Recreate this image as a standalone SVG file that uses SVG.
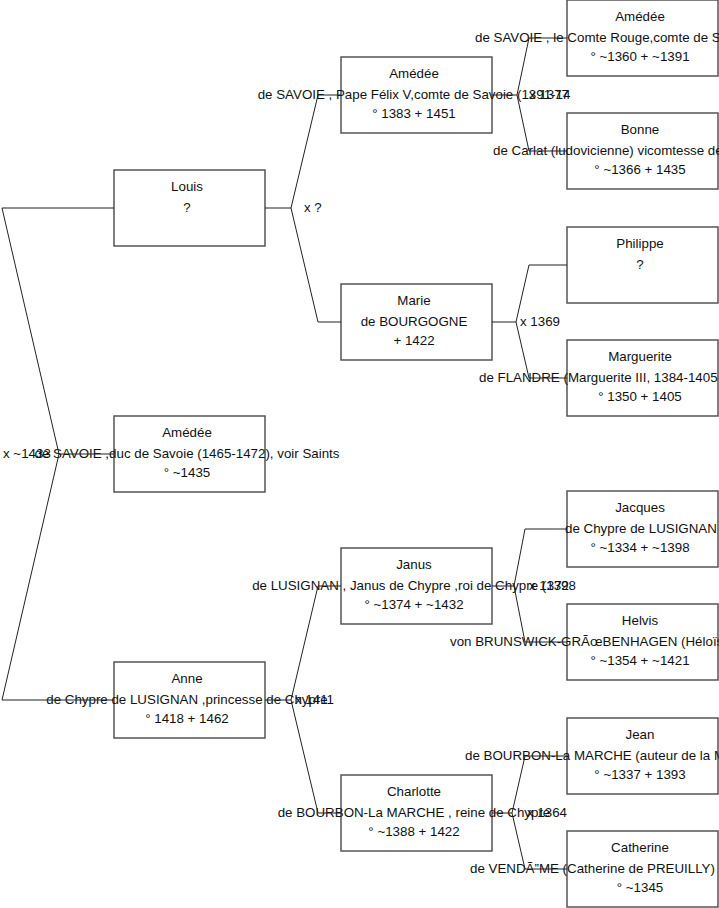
<svg xmlns="http://www.w3.org/2000/svg" width="719" height="908" viewBox="0 0 719 908">
<style>
.box{fill:#fff;stroke:#555;stroke-width:1.5}
.con{fill:none;stroke:#222;stroke-width:1}
text{font-family:"Liberation Sans",Arial,sans-serif;font-size:13.33px;fill:#111}
.c{text-anchor:middle}
</style>
<rect width="719" height="908" fill="#fff"/>
<g id="n-louis"><rect class="box" x="114" y="170" width="151" height="76"/>
<text class="c" x="187" y="191">Louis</text><text class="c" x="187" y="212">?</text></g>
<g id="n-amedee-ix"><rect class="box" x="114" y="416" width="151" height="76"/>
<text class="c" x="187" y="437">Amédée</text><text class="c" x="187" y="458">de SAVOIE ,duc de Savoie (1465-1472), voir Saints</text><text class="c" x="187" y="477">° ~1435</text></g>
<g id="n-anne"><rect class="box" x="114" y="662" width="151" height="76"/>
<text class="c" x="187" y="683">Anne</text><text class="c" x="187" y="704">de Chypre de LUSIGNAN ,princesse de Chypre</text><text class="c" x="187" y="723">° 1418 + 1462</text></g>
<g id="n-amedee-viii"><rect class="box" x="341" y="57" width="151" height="76"/>
<text class="c" x="414" y="78">Amédée</text><text class="c" x="414" y="99">de SAVOIE , Pape Félix V,comte de Savoie (1391-14</text><text class="c" x="414" y="118">° 1383 + 1451</text></g>
<g id="n-marie"><rect class="box" x="341" y="284" width="151" height="76"/>
<text class="c" x="414" y="305">Marie</text><text class="c" x="414" y="326">de BOURGOGNE</text><text class="c" x="414" y="345">+ 1422</text></g>
<g id="n-janus"><rect class="box" x="341" y="548" width="151" height="76"/>
<text class="c" x="414" y="569">Janus</text><text class="c" x="414" y="590">de LUSIGNAN , Janus de Chypre ,roi de Chypre (1398</text><text class="c" x="414" y="609">° ~1374 + ~1432</text></g>
<g id="n-charlotte"><rect class="box" x="341" y="775" width="151" height="76"/>
<text class="c" x="414" y="796">Charlotte</text><text class="c" x="414" y="817">de BOURBON-La MARCHE , reine de Chypre</text><text class="c" x="414" y="836">° ~1388 + 1422</text></g>
<g id="n-amedee-vii"><rect class="box" x="567" y="0" width="151" height="76"/>
<text class="c" x="640" y="21">Amédée</text><text x="475" y="42">de SAVOIE , le Comte Rouge,comte de S</text><text class="c" x="640" y="61">° ~1360 + ~1391</text></g>
<g id="n-bonne"><rect class="box" x="567" y="113" width="151" height="76"/>
<text class="c" x="640" y="134">Bonne</text><text x="493" y="155">de Carlat (ludovicienne) vicomtesse de</text><text class="c" x="640" y="174">° ~1366 + 1435</text></g>
<g id="n-philippe"><rect class="box" x="567" y="227" width="151" height="76"/>
<text class="c" x="640" y="248">Philippe</text><text class="c" x="640" y="269">?</text></g>
<g id="n-marguerite"><rect class="box" x="567" y="340" width="151" height="76"/>
<text class="c" x="640" y="361">Marguerite</text><text x="479" y="382">de FLANDRE (Marguerite III, 1384-1405</text><text class="c" x="640" y="401">° 1350 + 1405</text></g>
<g id="n-jacques"><rect class="box" x="567" y="491" width="151" height="76"/>
<text class="c" x="640" y="512">Jacques</text><text x="565" y="533">de Chypre de LUSIGNAN</text><text class="c" x="640" y="552">° ~1334 + ~1398</text></g>
<g id="n-helvis"><rect class="box" x="567" y="604" width="151" height="76"/>
<text class="c" x="640" y="625">Helvis</text><text x="450" y="646">von BRUNSWICK-GRÃœBENHAGEN (Héloïse</text><text class="c" x="640" y="665">° ~1354 + ~1421</text></g>
<g id="n-jean"><rect class="box" x="567" y="718" width="151" height="76"/>
<text class="c" x="640" y="739">Jean</text><text x="465" y="760">de BOURBON-La MARCHE (auteur de la M</text><text class="c" x="640" y="779">° ~1337 + 1393</text></g>
<g id="n-catherine"><rect class="box" x="567" y="831" width="151" height="76"/>
<text class="c" x="640" y="852">Catherine</text><text x="470" y="873">de VENDÃ”ME (Catherine de PREUILLY)</text><text class="c" x="640" y="892">° ~1345</text></g>
<g id="connectors">
<polyline class="con" points="114,208 2,208 59,454 2,700 114,700"/>
<line class="con" x1="59" y1="454" x2="114" y2="454"/>
<polyline class="con" points="341,95 318,95 291,208 318,322 341,322"/>
<line class="con" x1="265" y1="208" x2="291" y2="208"/>
<polyline class="con" points="341,586 318,586 291,700 318,813 341,813"/>
<line class="con" x1="265" y1="700" x2="291" y2="700"/>
<polyline class="con" points="567,38 529,38 517,95 529,151 567,151"/>
<line class="con" x1="492" y1="95" x2="517" y2="95"/>
<polyline class="con" points="567,265 529,265 516,322 529,378 567,378"/>
<line class="con" x1="492" y1="322" x2="516" y2="322"/>
<polyline class="con" points="567,529 525,529 514,586 525,642 567,642"/>
<line class="con" x1="492" y1="586" x2="514" y2="586"/>
<polyline class="con" points="567,756 525,756 512,813 525,869 567,869"/>
<line class="con" x1="492" y1="813" x2="512" y2="813"/>
</g>
<g id="labels">
<text x="3" y="458">x ~1433</text>
<text x="304" y="212">x ?</text>
<text x="295" y="704">x 1411</text>
<text x="529" y="99">x 1377</text>
<text x="520" y="326">x 1369</text>
<text x="529" y="590">x 1372</text>
<text x="527" y="817">x 1364</text>
</g>
</svg>
